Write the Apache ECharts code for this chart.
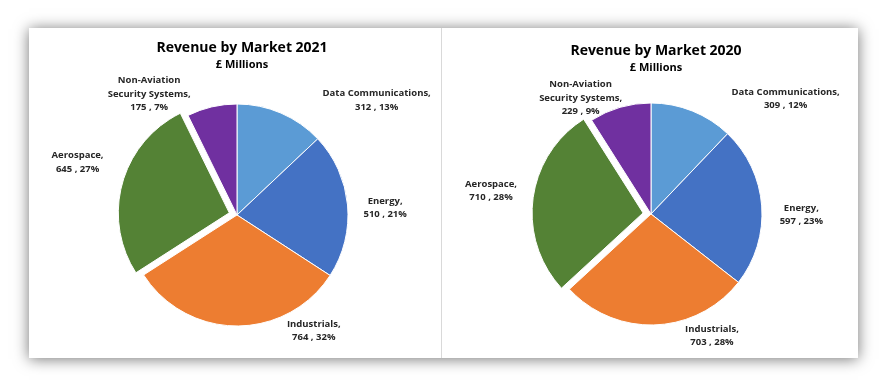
<!DOCTYPE html>
<html><head><meta charset="utf-8">
<script src="https://cdn.jsdelivr.net/npm/echarts@6/dist/echarts.min.js"></script>
<style>html,body{margin:0;padding:0;background:#fff}#c{width:884px;height:386px}</style>
</head><body><div id="c"></div>
<script>
const categories = ['Data Communications', 'Energy', 'Industrials', 'Aerospace', 'Non-Aviation Security Systems'];
const values2021 = [312, 510, 764, 645, 175];
const values2020 = [309, 597, 703, 710, 229];
const colors = ['#5B9BD5', '#4472C4', '#ED7D31', '#548235', '#7030A0'];
const titles = ['Revenue by Market 2021', 'Revenue by Market 2020'];
const subtitle = '£ Millions';
const explodedCategory = 'Aerospace';

const FONT = '"Open Sans", "Liberation Sans", sans-serif';
const EXPLODE = 8;
// label nudges (layout only), relative to default outside label centre
const labelNudge = [
  [[21, 0], [-13, 4], [119, -9], [2, -19], [-3, 1]],
  [[19, 1], [-11, 10], [14, -3], [5, -7], [21, 4]]
];

// direction of the exploded slice, derived from the data
function explodeShift(vals) {
  const total = vals.reduce((a, b) => a + b, 0);
  const k = categories.indexOf(explodedCategory);
  let before = 0;
  for (let i = 0; i < k; i++) before += vals[i];
  const mid = (before + vals[k] / 2) / total * 2 * Math.PI; // clockwise from 12 o'clock
  return [EXPLODE * Math.sin(mid), -EXPLODE * Math.cos(mid)];
}

const baseLabel = {
  show: true,
  position: 'outside',
  color: '#262626',
  fontFamily: FONT,
  fontSize: 9.5,
  fontWeight: 'bold',
  lineHeight: 13.5,
  formatter: p => p.name.replace('Non-Aviation ', 'Non-Aviation\n') + ',\n' + p.value + ' , ' + p.percent + '%'
};

function mainSeries(vals, cx, cy, si) {
  return {
    type: 'pie',
    center: [cx, cy],
    radius: 111,
    startAngle: 90,
    clockwise: true,
    percentPrecision: 0,
    animation: false,
    itemStyle: { borderColor: '#fff', borderWidth: 1 },
    emphasis: { disabled: true },
    label: baseLabel,
    labelLine: { show: false, length: 14, length2: 10 },
    labelLayout: function (params) {
      const r = params.labelRect;
      const n = labelNudge[si][params.dataIndex];
      return {
        x: r.x + r.width / 2 + n[0],
        y: r.y + r.height / 2 + n[1],
        align: 'center',
        verticalAlign: 'middle'
      };
    },
    data: categories.map((c, i) => ({
      name: c, value: vals[i],
      itemStyle: c === explodedCategory
        ? { color: 'rgba(0,0,0,0)', borderColor: 'rgba(0,0,0,0)', borderWidth: 0 }
        : { color: colors[i] }
    }))
  };
}
function explodedSeries(vals, cx, cy) {
  const s = explodeShift(vals);
  return {
    type: 'pie',
    center: [cx + s[0], cy + s[1]],
    radius: 111,
    startAngle: 90,
    clockwise: true,
    silent: true,
    animation: false,
    label: { show: false },
    labelLine: { show: false },
    emphasis: { disabled: true },
    data: categories.map((c, i) => ({
      name: c, value: vals[i],
      itemStyle: c === explodedCategory
        ? { color: colors[i], borderColor: '#fff', borderWidth: 1 }
        : { color: 'rgba(0,0,0,0)', borderWidth: 0 }
    }))
  };
}

const chart = echarts.init(document.getElementById('c'), null, { renderer: 'canvas' });
chart.setOption({
  backgroundColor: '#fff',
  title: [
    { text: titles[0], subtext: subtitle, left: 237, top: 36, textAlign: 'center', itemGap: 4,
      textStyle: { fontFamily: FONT, fontSize: 14, fontWeight: 'bold', color: '#000' },
      subtextStyle: { fontFamily: FONT, fontSize: 11, fontWeight: 'bold', color: '#000' } },
    { text: titles[1], subtext: subtitle, left: 651, top: 39, textAlign: 'center', itemGap: 4,
      textStyle: { fontFamily: FONT, fontSize: 14, fontWeight: 'bold', color: '#000' },
      subtextStyle: { fontFamily: FONT, fontSize: 11, fontWeight: 'bold', color: '#000' } }
  ],
  graphic: [
    { type: 'rect', z: -10, shape: { x: 29, y: 28, width: 829, height: 330 },
      style: { fill: '#fff', shadowBlur: 14, shadowColor: 'rgba(0,0,0,0.55)', shadowOffsetX: 0, shadowOffsetY: 1 } },
    { type: 'line', z: -9, shape: { x1: 441.5, y1: 28, x2: 441.5, y2: 358 }, style: { stroke: '#d9d9d9', lineWidth: 1 } }
  ],
  series: [
    mainSeries(values2021, 237, 215, 0), explodedSeries(values2021, 237, 215),
    mainSeries(values2020, 651, 214, 1), explodedSeries(values2020, 651, 214)
  ]
});
</script></body></html>
